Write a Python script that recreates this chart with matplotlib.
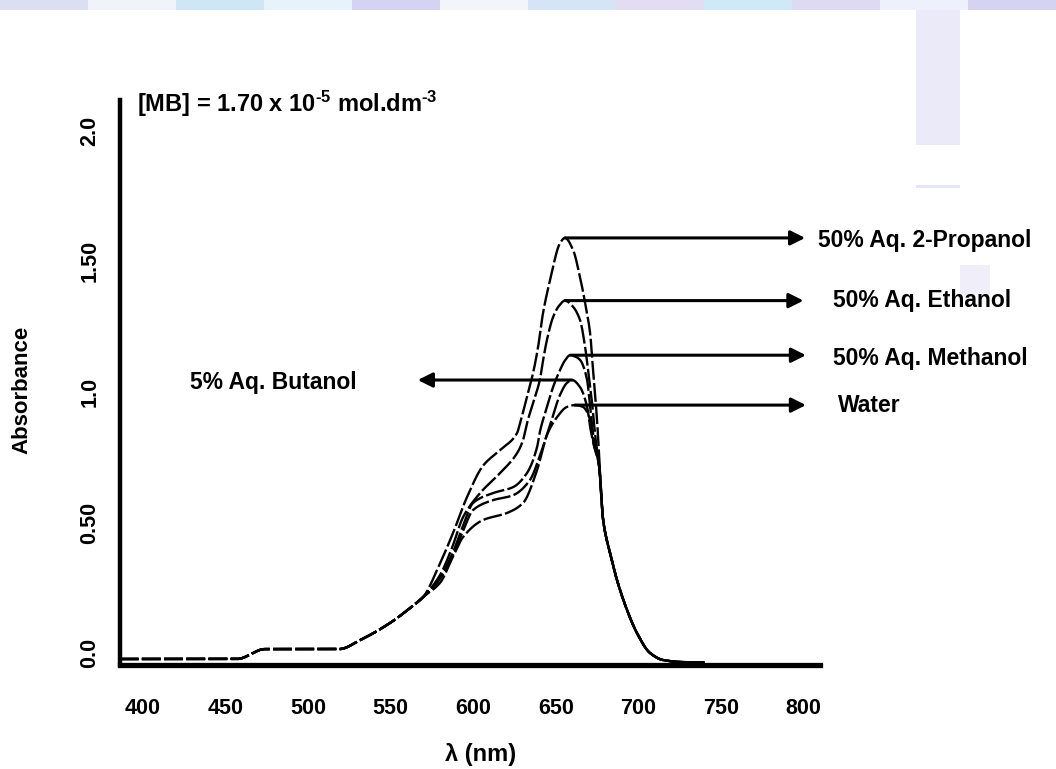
import matplotlib
matplotlib.use("Agg")
import matplotlib.pyplot as plt
from matplotlib.patches import Rectangle
import numpy as np

plt.rcParams['font.family'] = ['Liberation Sans', 'DejaVu Sans']
plt.rcParams['mathtext.fontset'] = 'custom'
plt.rcParams['mathtext.rm'] = 'Liberation Sans:bold'
plt.rcParams['mathtext.bf'] = 'Liberation Sans:bold'
plt.rcParams['mathtext.default'] = 'rm'

# ---------------- data ----------------
# shared baseline before the curves separate
base_nm = [386, 457, 474, 519, 531.5, 549.7, 561.8, 569.7]
base_abs = [-0.022, -0.022, 0.016, 0.016, 0.05, 0.116, 0.173, 0.215]
# shared long-wavelength tail after the curves merge again
tail_nm = [678.7, 682.9, 687.1, 693.2, 699.2, 707.1, 715.0, 727.1, 740]
tail_abs = [0.51, 0.383, 0.28, 0.165, 0.077, 0.001, -0.026, -0.034, -0.035]

propanol_nm = [580, 587.8, 596.3, 606, 616.3, 626.6, 628.4, 632.6, 636.3, 639.3, 642.3,
               646.6, 652.6, 655.6, 660.5, 664.7, 667.8, 670.8, 672.6, 675, 676.2]
propanol_abs = [0.345, 0.46, 0.598, 0.718, 0.778, 0.843, 0.881, 0.981, 1.073, 1.172, 1.302,
                1.429, 1.570, 1.590, 1.544, 1.44, 1.341, 1.226, 1.084, 0.893, 0.766]

ethanol_nm = [580, 587, 593.9, 604.2, 616.3, 626.6, 630.2, 632.6, 636.3, 640.5, 642.3,
              644.7, 648.4, 652, 655.6, 660, 664.7, 667.8, 669.6, 672, 674, 676.2]
ethanol_abs = [0.30, 0.40, 0.521, 0.613, 0.690, 0.766, 0.816, 0.881, 0.958, 1.05, 1.12,
               1.20, 1.287, 1.33, 1.350, 1.33, 1.276, 1.172, 1.084, 0.958, 0.828, 0.72]

methanol_nm = [580, 588, 594, 599.9, 612, 624.2, 632.6, 638.7, 640.5, 644.7, 648.4,
               652.6, 655.5, 658.7, 662, 664.7, 669, 670.8, 672.6, 675, 676.2]
methanol_abs = [0.29, 0.39, 0.49, 0.575, 0.613, 0.636, 0.69, 0.789, 0.85, 0.943, 1.019,
                1.084, 1.12, 1.141, 1.135, 1.123, 1.046, 0.943, 0.843, 0.76, 0.72]

butanol_nm = [580, 588, 594, 599.9, 612, 624.2, 634.4, 640.5, 646.6, 652.6, 656.8,
              659.9, 664.7, 669, 671, 673, 676.2]
butanol_abs = [0.285, 0.38, 0.47, 0.548, 0.586, 0.605, 0.663, 0.758, 0.874, 0.989, 1.035,
               1.046, 1.019, 0.943, 0.86, 0.8, 0.72]

water_nm = [580, 587.8, 593.9, 606, 620.5, 630.2, 638.7, 644.7, 650.8, 656.8, 661.7,
            666.5, 670.8, 673, 676.2]
water_abs = [0.27, 0.37, 0.445, 0.51, 0.537, 0.575, 0.701, 0.836, 0.904, 0.943, 0.95,
             0.943, 0.893, 0.8, 0.72]

series_names = ["50% Aq. 2-Propanol", "50% Aq. Ethanol", "50% Aq. Methanol",
                "5% Aq. Butanol", "Water"]
series_nm = [propanol_nm, ethanol_nm, methanol_nm, butanol_nm, water_nm]
series_abs = [propanol_abs, ethanol_abs, methanol_abs, butanol_abs, water_abs]
# arrow end (nm) for each label arrow
arrow_tips = [801, 800, 801.5, 566.5, 801.5]

x_ticks = [400, 450, 500, 550, 600, 650, 700, 750, 800]
y_ticks = [0.0, 0.5, 1.0, 1.5, 2.0]
y_ticklabels = ["0.0", "0.50", "1.0", "1.50", "2.0"]


def pchip(x, y, xn):
    """Shape-preserving cubic interpolation through the read points."""
    x = np.asarray(x, float)
    y = np.asarray(y, float)
    h = np.diff(x)
    d = np.diff(y) / h
    m = np.zeros_like(y)
    for i in range(1, len(x) - 1):
        if d[i - 1] * d[i] > 0:
            w1 = 2 * h[i] + h[i - 1]
            w2 = h[i] + 2 * h[i - 1]
            m[i] = (w1 + w2) / (w1 / d[i - 1] + w2 / d[i])
    m[0] = d[0]
    m[-1] = d[-1]
    idx = np.clip(np.searchsorted(x, xn) - 1, 0, len(x) - 2)
    t = (xn - x[idx]) / h[idx]
    h00 = 2 * t**3 - 3 * t**2 + 1
    h10 = t**3 - 2 * t**2 + t
    h01 = -2 * t**3 + 3 * t**2
    h11 = t**3 - t**2
    return h00 * y[idx] + h10 * h[idx] * m[idx] + h01 * y[idx + 1] + h11 * h[idx] * m[idx + 1]


# ---------------- figure ----------------
W, H = 1056, 769
fig = plt.figure(figsize=(W / 100, H / 100), dpi=100)
fig.patch.set_facecolor('white')

# decorative pastel band at the top and lavender patches at the right (scan artefacts)
band_cols = ['#dcdff4', '#f1f3fb', '#cfe6f7', '#e7f3fb', '#d6d2f3', '#f4f4fb',
             '#d5e5f7', '#e2ddf5', '#d0e9f8', '#dedaf4', '#eef1fb', '#d6d2f2']
nb = len(band_cols)
for i, c in enumerate(band_cols):
    fig.add_artist(Rectangle((i / nb, 1 - 10 / H), 1 / nb, 10 / H,
                             transform=fig.transFigure, color=c, lw=0, zorder=0))
fig.add_artist(Rectangle((916 / W, 1 - 145 / H), 44 / W, 135 / H,
                         transform=fig.transFigure, color='#ebeaf8', lw=0, zorder=0))
fig.add_artist(Rectangle((916 / W, 1 - 188 / H), 44 / W, 3 / H,
                         transform=fig.transFigure, color='#e6e5f6', lw=0, zorder=0))
fig.add_artist(Rectangle((960 / W, 1 - 295 / H), 30 / W, 30 / H,
                         transform=fig.transFigure, color='#efeef9', lw=0, zorder=0))

ax = fig.add_axes([120 / W, (H - 665) / H, 700 / W, 565 / H])
ax.set_facecolor('none')

for nm_mid, a_mid in zip(series_nm, series_abs):
    x = np.array(list(base_nm) + list(nm_mid) + list(tail_nm))
    y = np.array(list(base_abs) + list(a_mid) + list(tail_abs))
    xs = np.linspace(x[0], x[-1], 1500)
    ax.plot(xs, pchip(x, y, xs), color='black', lw=1.7, dashes=(8, 1.4),
            solid_capstyle='butt')

# label arrows from each peak
for nm_mid, a_mid, tip in zip(series_nm, series_abs, arrow_tips):
    k = int(np.argmax(a_mid))
    px, py = nm_mid[k], a_mid[k]
    ax.annotate('', xy=(tip, py), xytext=(px, py),
                arrowprops=dict(arrowstyle='-|>', color='black', lw=2.2,
                                mutation_scale=22, shrinkA=0, shrinkB=0),
                annotation_clip=False)

ax.set_xlim(386.2, 810)
ax.set_ylim(-0.045, 2.118)
for s in ['top', 'right']:
    ax.spines[s].set_visible(False)
ax.spines['left'].set_linewidth(3.2)
ax.spines['bottom'].set_linewidth(3.8)

ax.set_xticks(x_ticks)
ax.set_xticklabels([str(v) for v in x_ticks], fontsize=15.5, fontweight='bold')
ax.set_yticks(y_ticks)
ax.set_yticklabels(y_ticklabels, fontsize=15.5, fontweight='bold', rotation=90, va='center')
ax.tick_params(axis='x', length=0, pad=24)
ax.tick_params(axis='y', length=0, pad=14)

# texts
fig.text(22 / W, 1 - 390 / H, 'Absorbance', rotation=90, ha='center', va='center',
         fontsize=16, fontweight='bold')
fig.text(481 / W, 1 - 755 / H, 'λ (nm)', ha='center', va='center',
         fontsize=17, fontweight='bold')
fig.text(137 / W, 1 - 104 / H, '[MB] = 1.70 x 10$^{\u2010' + '5}$ mol.dm$^{\u2010' + '3}$',
         ha='left', va='center', fontsize=17, fontweight='bold')

label_pos = [(818, 240), (833, 301), (833, 358), (190, 383), (838, 405)]
for name, (lx, ly) in zip(series_names, label_pos):
    fig.text(lx / W, 1 - ly / H, name, ha='left', va='center', fontsize=16.5,
             fontweight='bold')

fig.savefig('out.png', dpi=100, facecolor='white')
